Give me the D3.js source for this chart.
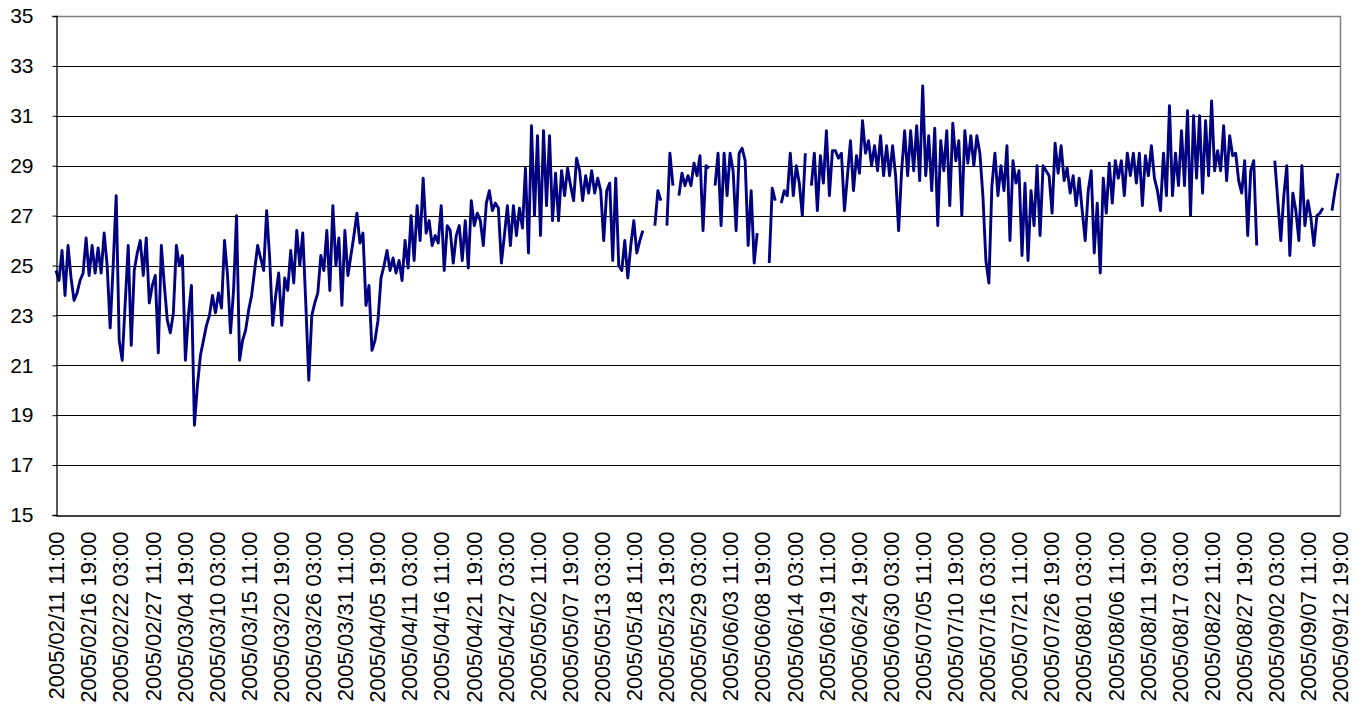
<!DOCTYPE html>
<html><head><meta charset="utf-8">
<script src="https://cdn.jsdelivr.net/npm/d3@7"></script>
<style>
body{margin:0;background:#fff}
svg{display:block}
text{font-family:Arial,"Liberation Sans",sans-serif;fill:#000}
</style>
</head><body>
<svg id="chart" width="1364" height="711"></svg>
<script>
// ---- data (12-hourly readings; null = no data) ----
const seriesStart = "2005/02/11 11:00";
const stepHours = 12;
const febValues = [24.8,24.4,25.6,23.8,25.8,24.5,23.6,23.9,24.4,24.7,26.1,24.6,25.8,24.7,25.7,24.7,26.3,25.0,22.5,25.0,27.8,22.0,21.2,23.5,25.8,21.8,24.8,25.5,26.0,24.6,26.1,23.5,24.2,24.6,21.5,25.8];
const marValues = [24.2,22.8,22.3,23.1,25.8,25.0,25.4,21.2,23.0,24.2,18.6,20.2,21.4,22.0,22.6,23.0,23.8,23.1,23.9,23.3,26.0,24.6,22.3,24.0,27.0,21.2,22.0,22.4,23.2,23.8,24.8,25.8,25.3,24.8,27.2,25.3,22.6,23.8,24.7,22.6,24.5,24.0,25.6,24.3,26.4,25.0,26.3,23.5,20.4,23.0,23.5,23.9,25.4,24.8,26.4,24.0,27.4,25.0,26.1,23.4,26.4,24.6];
const aprValues = [25.4,26.2,27.1,25.9,26.3,23.4,24.2,21.6,22.0,22.8,24.5,25.0,25.6,24.8,25.3,24.7,25.2,24.4,26.0,24.9,27.0,25.2,27.4,26.0,28.5,26.3,26.8,25.8,26.2,25.9,27.4,24.8,26.6,26.4,25.1,26.2,26.6,25.2,26.8,24.9,27.6,26.6,27.1,26.8,25.8,27.5,28.0,27.2,27.5,27.3,25.1,26.2,27.4,25.8,27.4,26.2,27.3,26.5,28.9,25.5];
const mayValues = [30.6,27.0,30.2,26.2,30.4,27.4,30.2,26.8,28.7,26.8,28.8,27.8,28.9,28.2,27.6,29.3,28.8,27.6,28.6,27.9,28.8,27.9,28.5,28.0,26.0,28.0,28.3,25.2,28.5,25.0,24.8,26.0,24.5,25.8,26.8,25.5,26.0,26.4,null,null,null,26.6,28.0,27.6,null,26.6,29.5,28.2,null,27.8,28.7,28.2,28.6,28.2,29.1,28.6,29.4,26.4,29.0,28.9,null,28.2];
const junValues = [29.5,26.6,29.5,27.8,29.5,28.8,26.4,29.5,29.7,29.2,25.8,28.0,25.1,26.3,null,null,null,25.1,28.1,27.6,null,27.5,28.0,27.8,29.5,27.8,29.0,28.3,27.0,29.5,null,28.2,29.5,27.2,29.4,28.3,30.4,27.8,29.6,29.6,29.3,29.5,27.2,28.6,30.0,28.0,29.4,28.7,30.8,29.5,30.0,29.0,29.8,28.8,30.2,28.6,29.8,28.6,29.8,28.6];
const julValues = [26.4,28.8,30.4,28.6,30.4,28.8,30.6,28.4,32.2,28.6,30.2,28.0,30.5,26.6,30.0,28.8,30.4,27.4,30.7,29.2,30.0,27.0,30.4,29.1,30.2,29.0,30.2,29.5,27.8,25.2,24.3,28.2,29.5,27.8,29.0,28.0,29.8,26.0,29.2,28.3,28.8,25.4,28.3,25.2,28.0,26.6,29.0,26.2,29.0,28.8,28.6,27.1,29.9,28.7,29.8,28.4,28.9,27.9,28.6,27.4,28.5,27.2];
const augValues = [26.0,28.0,28.8,25.5,27.5,24.7,28.5,27.1,29.1,27.5,29.2,28.5,29.2,27.8,29.5,28.6,29.5,28.3,29.5,27.4,29.4,28.6,29.8,28.5,28.0,27.2,29.5,27.8,31.4,27.8,29.5,28.2,30.4,28.2,31.2,27.0,31.0,28.5,31.0,27.9,30.8,28.6,31.6,28.8,29.6,28.8,30.6,28.4,30.2,29.4,29.5,28.4,27.9,29.2,26.2,28.8,29.2,25.8,null,null,null,null];
const sepValues = [null,29.2,27.6,26.0,27.8,29.0,25.4,27.9,27.2,26.0,29.0,26.6,27.6,26.9,25.8,27.0,27.1,27.3,null,null,27.2,28.0,28.7];

const yTicks = [15,17,19,21,23,25,27,29,31,33,35];
const xTickLabels = ["2005/02/11 11:00","2005/02/16 19:00","2005/02/22 03:00","2005/02/27 11:00","2005/03/04 19:00","2005/03/10 03:00","2005/03/15 11:00","2005/03/20 19:00","2005/03/26 03:00","2005/03/31 11:00","2005/04/05 19:00","2005/04/11 03:00","2005/04/16 11:00","2005/04/21 19:00","2005/04/27 03:00","2005/05/02 11:00","2005/05/07 19:00","2005/05/13 03:00","2005/05/18 11:00","2005/05/23 19:00","2005/05/29 03:00","2005/06/03 11:00","2005/06/08 19:00","2005/06/14 03:00","2005/06/19 11:00","2005/06/24 19:00","2005/06/30 03:00","2005/07/05 11:00","2005/07/10 19:00","2005/07/16 03:00","2005/07/21 11:00","2005/07/26 19:00","2005/08/01 03:00","2005/08/06 11:00","2005/08/11 19:00","2005/08/17 03:00","2005/08/22 11:00","2005/08/27 19:00","2005/09/02 03:00","2005/09/07 11:00","2005/09/12 19:00"];

// ---- build ----
const parse = d3.utcParse("%Y/%m/%d %H:%M");
const fmt = d3.utcFormat("%Y/%m/%d %H:%M");
const values = [].concat(febValues, marValues, aprValues, mayValues, junValues, julValues, augValues, sepValues);
const t0 = parse(seriesStart);
const data = values.map((v, i) => ({date: d3.utcHour.offset(t0, i * stepHours), value: v}));
const tickDates = xTickLabels.map(parse);

const L = 56, R = 1340, T = 16, B = 515;
const x = d3.scaleUtc().domain([tickDates[0], tickDates[tickDates.length - 1]]).range([L, R]);
const y = d3.scaleLinear().domain([15, 35]).range([B, T]);

const svg = d3.select("#chart");

// gridlines
svg.append("g").selectAll("line")
  .data(yTicks.filter(v => v > 15 && v < 35))
  .join("line")
  .attr("x1", L).attr("x2", R)
  .attr("y1", d => Math.round(y(d)) + 0.5).attr("y2", d => Math.round(y(d)) + 0.5)
  .attr("stroke", "#000").attr("stroke-width", 1);

// top / right frame
svg.append("path")
  .attr("d", `M${L},${T + 0.5}H${R + 0.5}V${B}`)
  .attr("fill", "none").attr("stroke", "#808080").attr("stroke-width", 1.5);

// line
const line = d3.line()
  .defined(d => d.value !== null)
  .x(d => x(d.date)).y(d => y(d.value));
svg.append("path")
  .datum(data)
  .attr("d", line)
  .attr("fill", "none")
  .attr("stroke", "#000080")
  .attr("stroke-width", 2.9)
  .attr("stroke-linejoin", "round");

// y axis
const yAxis = svg.append("g")
  .attr("transform", `translate(${L + 0.5},0)`)
  .call(d3.axisLeft(y).tickValues(yTicks).tickSize(4).tickPadding(19).tickFormat(d3.format("d")));
yAxis.select(".domain").attr("stroke", "#000").attr("stroke-width", 1.3);
yAxis.selectAll(".tick line").attr("stroke", "#000");
yAxis.selectAll("text").style("font-size", "21px").attr("fill", "#000");

// x axis
const xAxis = svg.append("g")
  .attr("transform", `translate(0,${B + 0.5})`)
  .call(d3.axisBottom(x).tickValues(tickDates).tickSize(0).tickFormat(fmt));
xAxis.select(".domain").attr("stroke", "#000").attr("stroke-width", 1.3);
xAxis.selectAll("text")
  .style("font-size", "22px")
  .attr("fill", "#000")
  .attr("text-anchor", "end")
  .attr("transform", "translate(0,16) rotate(-90)")
  .attr("x", 0).attr("y", 0).attr("dy", "0.35em");
</script>
</body></html>
